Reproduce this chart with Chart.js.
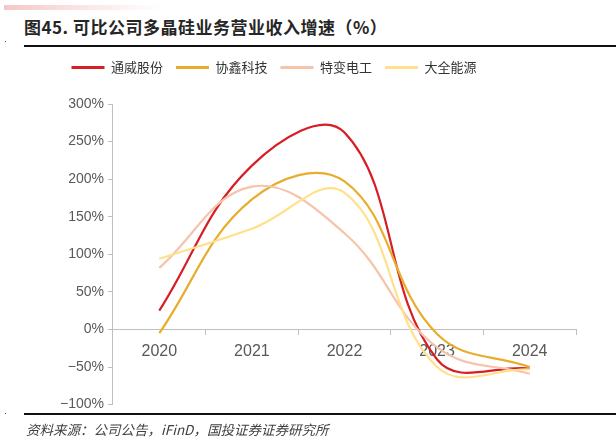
<!DOCTYPE html>
<html>
<head>
<meta charset="utf-8">
<script src="https://cdn.jsdelivr.net/npm/chart.js@4.4.1/dist/chart.umd.min.js"></script>
<style>
  html, body { margin:0; padding:0; background:#fff; width:616px; height:440px; overflow:hidden; }
  #topbar { position:absolute; left:4px; top:5px; width:160px; height:5px;
    background: linear-gradient(to right, #f4c7c7, #fbe6e6 50%, #ffffff); }
  #title { position:absolute; left:24px; top:14px; font-family:"Noto Sans CJK SC", sans-serif;
    font-weight:bold; font-size:17px; color:#262626; white-space:nowrap; letter-spacing:0.5px; }
  #rule1 { position:absolute; left:24px; top:45px; width:592px; height:2px; background:#111; }
  #rule2 { position:absolute; left:24px; top:413px; width:592px; height:2px; background:#111; }
  #dot1 { position:absolute; left:5px; top:41px; width:1px; height:1px; background:#555; }
  #dot2 { position:absolute; left:5px; top:413px; width:1px; height:1px; background:#555; }
  #source { position:absolute; left:26px; top:419px; font-family:"Noto Sans CJK SC", sans-serif;
    font-style:italic; font-size:13.5px; color:#404040; white-space:nowrap; }
  #wrap { position:absolute; left:0; top:48px; width:616px; height:369px; }
</style>
</head>
<body>
<div id="topbar"></div>
<div id="title">图45. 可比公司多晶硅业务营业收入增速（%）</div>
<div id="dot1"></div>
<div id="rule1"></div>
<div id="wrap"><canvas id="c"></canvas></div>
<div id="dot2"></div>
<div id="rule2"></div>
<div id="source">资料来源：公司公告，iFinD，国投证券证券研究所</div>
<script>
const categories = ['2020', '2021', '2022', '2023', '2024'];
const tongwei  = [25, 218, 262, -40, -52];
const xiexin   = [-5, 173, 197, -6, -50];
const tebian   = [82, 190, 128, -24, -59];
const daquan   = [94, 134, 182, -50, -53];
const seriesNames = ['通威股份', '协鑫科技', '特变电工', '大全能源'];
const yMin = -100, yMax = 300, yStep = 50;

const colors = ['#D71E26', '#E8AD2C', '#F6C4AA', '#FFE18C'];
const seriesData = [tongwei, xiexin, tebian, daquan];

const datasets = seriesData.map((d, i) => ({
  label: seriesNames[i],
  data: d,
  borderColor: colors[i],
  backgroundColor: colors[i],
  borderWidth: 2.2,
  pointRadius: 0,
  pointHoverRadius: 0,
  tension: 0.4,
  fill: false
})).reverse();

Chart.defaults.font.family = '"Liberation Sans", Arial, sans-serif';

const legendTweak = {
  id: 'legendTweak',
  afterInit(chart) {
    const lg = chart.legend;
    if (lg && !lg._patched) {
      const orig = lg.fit;
      lg.fit = function () { orig.call(this); this.height += 20; };
      lg._patched = true;
    }
  },
  afterLayout(chart) {
    const lg = chart.legend;
    if (lg) { lg.left -= 42; lg.right -= 42; }
  }
};

new Chart(document.getElementById('c'), {
  type: 'line',
  data: { labels: categories, datasets: datasets },
  plugins: [legendTweak],
  options: {
    responsive: true,
    maintainAspectRatio: false,
    animation: false,
    layout: { padding: { left: 56, right: 40, top: 0, bottom: 0 } },
    plugins: {
      tooltip: { enabled: false },
      legend: {
        position: 'top',
        reverse: true,
        labels: {
          boxWidth: 33,
          boxHeight: 3,
          padding: 13,
          color: '#333333',
          font: { family: '"Noto Sans CJK SC", sans-serif', size: 13 },
          generateLabels: (chart) => {
            const items = Chart.defaults.plugins.legend.labels.generateLabels(chart);
            items.forEach(it => { it.lineWidth = 0; it.strokeStyle = 'rgba(0,0,0,0)'; });
            return items;
          }
        }
      }
    },
    scales: {
      x: {
        type: 'category',
        position: { y: 0 },
        offset: true,
        grid: { offset: true, drawOnChartArea: false, drawTicks: true, tickLength: 5, color: '#BFBFBF' },
        border: { color: '#BFBFBF', width: 1 },
        ticks: { color: '#595959', font: { size: 16 }, padding: 8, maxRotation: 0 }
      },
      y: {
        min: yMin, max: yMax,
        grid: { drawOnChartArea: false, drawTicks: true, tickLength: 5, color: '#BFBFBF' },
        border: { color: '#BFBFBF', width: 1 },
        ticks: {
          stepSize: yStep,
          color: '#595959',
          font: { size: 14 },
          padding: 4,
          callback: (v) => (v < 0 ? '\u2212' + Math.abs(v) : v) + '%'
        }
      }
    }
  }
});
</script>
</body>
</html>
